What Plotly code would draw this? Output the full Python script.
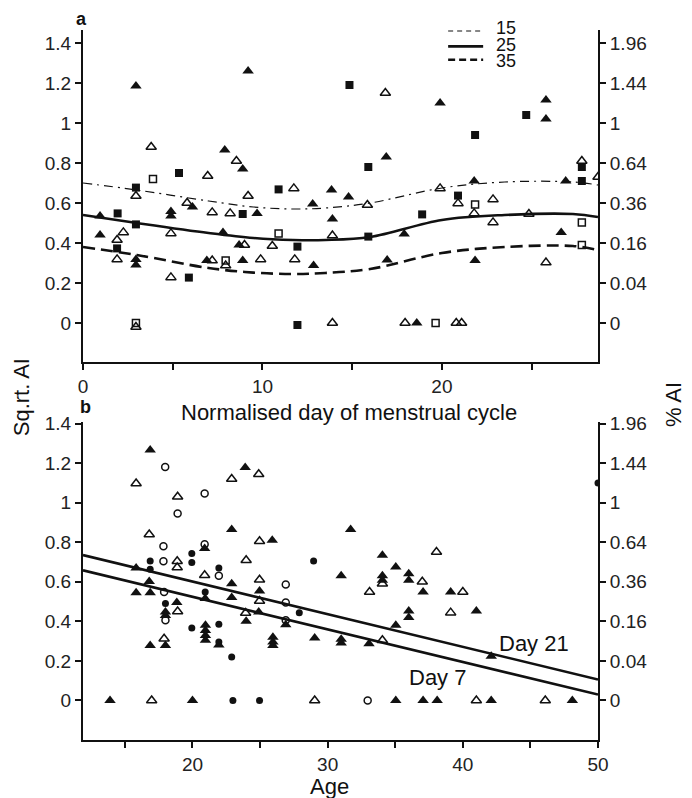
import plotly.graph_objects as go

# ---------------- Panel a data (day of cycle, sqrt AI) ----------------
a_ft_day = [2.95, 9.2, 7.9, 8.9, 19.9, 25.8, 25.8, 16.9, 26.9, 21.8, 13.85, 14.8, 6.1, 12.8, 0.95, 4.9, 4.9,
            9.7, 13.9, 7.8, 0.95, 8.7, 2.95, 2.95, 6.9, 8.9, 12.85, 17.9, 26.65, 16.95, 21.85, 18.6]
a_ft_val = [1.185, 1.26, 0.865, 0.77, 1.10, 1.115, 1.02, 0.83, 0.71, 0.71, 0.665, 0.63, 0.58, 0.595, 0.535, 0.557, 0.535,
            0.548, 0.52, 0.453, 0.44, 0.39, 0.318, 0.29, 0.312, 0.312, 0.287, 0.445, 0.453, 0.315, 0.312, 0.0]

a_ot_day = [3.8, 8.55, 6.95, 16.85, 27.8, 28.7, 2.95, 11.75, 9.2, 5.8, 15.85, 7.2, 8.2, 4.9, 2.25, 1.9, 13.9,
            9.0, 10.55, 1.9, 7.2, 7.95, 9.9, 11.8, 4.9, 2.95, 13.9, 19.9, 20.9, 22.85, 21.8, 22.85, 24.85,
            25.8, 17.95, 20.8, 21.1]
a_ot_val = [0.88, 0.81, 0.735, 1.15, 0.81, 0.73, 0.635, 0.673, 0.635, 0.60, 0.59, 0.553, 0.548, 0.448, 0.453, 0.415, 0.437,
            0.39, 0.385, 0.318, 0.312, 0.287, 0.318, 0.318, 0.228, -0.02, 0.0, 0.673, 0.598, 0.618, 0.548, 0.503, 0.545,
            0.302, 0.0, 0.0, 0.0]

a_fs_day = [14.85, 5.35, 15.9, 24.7, 21.85, 27.8, 27.8, 2.95, 10.9, 1.93, 8.9, 2.95, 15.9, 11.95, 1.9, 5.9, 11.95,
            20.9, 18.9]
a_fs_val = [1.19, 0.75, 0.78, 1.04, 0.94, 0.78, 0.71, 0.677, 0.668, 0.548, 0.545, 0.493, 0.432, 0.382, 0.373, 0.227, -0.01,
            0.637, 0.543]

a_os_day = [3.9, 10.9, 7.95, 2.95, 21.85, 27.8, 27.8, 19.65]
a_os_val = [0.72, 0.448, 0.312, 0.0, 0.593, 0.503, 0.39, 0.0]

# fitted curves for ages 15, 25, 35
curve_day = [0, 3, 7, 9.5, 11.7, 13.5, 16, 20, 23.5, 27.3, 28.7]
curve_15 = [0.70, 0.665, 0.61, 0.58, 0.57, 0.575, 0.60, 0.675, 0.705, 0.705, 0.69]
curve_25 = [0.54, 0.50, 0.45, 0.425, 0.415, 0.415, 0.43, 0.515, 0.54, 0.545, 0.53]
curve_35 = [0.38, 0.34, 0.275, 0.252, 0.245, 0.25, 0.27, 0.35, 0.38, 0.385, 0.365]
legend_labels = ["15", "25", "35"]

# ---------------- Panel b data (age, sqrt AI) ----------------
b_ft_age = [16.87, 23.9, 20.9, 22.9, 25.9, 31.7, 15.83, 31.0, 16.8, 15.83, 16.87, 22.9, 24.96, 34.05, 35.04, 34.05,
            34.05, 36.0, 36.0, 37.06, 39.1, 36.0, 36.0, 41.0, 35.04, 31.0, 31.0, 33.06, 42.1, 22.9, 18.84, 18.0, 18.0,
            23.97, 24.9, 26.9, 20.94, 20.96, 20.96, 20.96, 20.96, 21.95, 18.0, 16.87, 25.95, 25.95, 25.95, 29.04,
            13.9, 20.0, 35.04, 37.06, 38.1, 42.1, 48.1]
b_ft_val = [1.266, 1.178, 0.768, 0.864, 0.81, 0.864, 0.67, 0.63, 0.602, 0.545, 0.545, 0.59, 0.553, 0.734, 0.675, 0.63,
            0.608, 0.641, 0.608, 0.548, 0.548, 0.452, 0.419, 0.452, 0.38, 0.31, 0.29, 0.287, 0.223, 0.52, 0.495, 0.447, 0.43,
            0.40, 0.447, 0.383, 0.515, 0.38, 0.354, 0.329, 0.304, 0.28, 0.278, 0.278, 0.32, 0.295, 0.278, 0.316,
            0.0, 0.0, 0.0, 0.0, 0.0, 0.0, 0.0]

b_ot_age = [15.83, 18.9, 22.9, 24.9, 16.8, 24.96, 18.87, 18.87, 23.97, 20.9, 24.96, 33.1, 38.05, 34.05, 37.0, 40.0,
            39.1, 34.05, 24.96, 18.9, 23.93, 17.9, 16.98, 29.04, 41.0, 46.1]
b_ot_val = [1.097, 1.03, 1.12, 1.144, 0.839, 0.805, 0.704, 0.672, 0.709, 0.633, 0.61, 0.548, 0.751, 0.59, 0.6, 0.548,
            0.444, 0.304, 0.503, 0.45, 0.442, 0.312, 0.0, 0.0, 0.0, 0.0]

b_fc_age = [19.95, 19.95, 16.87, 21.95, 28.96, 16.87, 20.94, 18.0, 27.9, 19.95, 21.95, 21.95, 22.9, 22.99, 24.96, 50.0]
b_fc_val = [0.743, 0.697, 0.705, 0.67, 0.705, 0.663, 0.548, 0.49, 0.444, 0.366, 0.385, 0.295, 0.22, 0.0, 0.0, 1.1]

b_oc_age = [17.98, 18.9, 20.9, 17.85, 20.9, 17.85, 21.95, 26.9, 17.9, 26.9, 18.0, 26.9, 32.96]
b_oc_val = [1.18, 0.945, 1.047, 0.78, 0.79, 0.704, 0.63, 0.586, 0.548, 0.495, 0.405, 0.405, 0.0]

# regression lines
line_age = [11.9, 50.0]
day21_val = [0.735, 0.106]
day7_val = [0.658, 0.030]

# ---------------- ticks ----------------
sqrt_ticks = [0, 0.2, 0.4, 0.6, 0.8, 1.0, 1.2, 1.4]
sqrt_ticktext = ["0", "0.2", "0.4", "0.6", "0.8", "1", "1.2", "1.4"]
pct_ticktext = ["0", "0.04", "0.16", "0.36", "0.64", "1", "1.44", "1.96"]
day_ticks = [0, 5, 10, 15, 20, 25]
day_ticktext = ["0", "", "10", "", "20", ""]
age_ticks = [15, 20, 25, 30, 35, 40, 45, 50]
age_ticktext = ["", "20", "", "30", "", "40", "", "50"]

FONT = "Liberation Sans, Arial, sans-serif"
BLACK = "#111111"

fig = go.Figure()

def add_markers(x, y, symbol, size, xa, ya):
    open_ = symbol.endswith("open")
    fig.add_trace(go.Scatter(
        x=x, y=y, mode="markers", xaxis=xa, yaxis=ya, showlegend=False,
        marker=dict(symbol=symbol, size=size, color=BLACK,
                    line=dict(color=BLACK, width=1.5 if open_ else 0)),
        cliponaxis=True))

# panel a curves
fig.add_trace(go.Scatter(x=curve_day, y=curve_15, mode="lines", xaxis="x", yaxis="y", showlegend=False,
                         line=dict(color=BLACK, width=1.2, dash="9px,5px,2px,5px", shape="spline", smoothing=1.0)))
fig.add_trace(go.Scatter(x=curve_day, y=curve_25, mode="lines", xaxis="x", yaxis="y", showlegend=False,
                         line=dict(color=BLACK, width=2.6, shape="spline", smoothing=1.0)))
fig.add_trace(go.Scatter(x=curve_day, y=curve_35, mode="lines", xaxis="x", yaxis="y", showlegend=False,
                         line=dict(color=BLACK, width=2.6, dash="12px,6px", shape="spline", smoothing=1.0)))

add_markers(a_ft_day, a_ft_val, "triangle-up", 10, "x", "y")
add_markers(a_ot_day, a_ot_val, "triangle-up-open", 9, "x", "y")
add_markers(a_fs_day, a_fs_val, "square", 8, "x", "y")
add_markers(a_os_day, a_os_val, "square-open", 7, "x", "y")

# panel b lines
fig.add_trace(go.Scatter(x=line_age, y=day21_val, mode="lines", xaxis="x2", yaxis="y2", showlegend=False,
                         line=dict(color=BLACK, width=2.6)))
fig.add_trace(go.Scatter(x=line_age, y=day7_val, mode="lines", xaxis="x2", yaxis="y2", showlegend=False,
                         line=dict(color=BLACK, width=2.6)))

add_markers(b_ft_age, b_ft_val, "triangle-up", 10, "x2", "y2")
add_markers(b_ot_age, b_ot_val, "triangle-up-open", 9, "x2", "y2")
add_markers(b_fc_age, b_fc_val, "circle", 7, "x2", "y2")
add_markers(b_oc_age, b_oc_val, "circle-open", 7, "x2", "y2")

# dummy traces so the right-hand axes are drawn
fig.add_trace(go.Scatter(x=[None], y=[None], xaxis="x", yaxis="y3", showlegend=False))
fig.add_trace(go.Scatter(x=[None], y=[None], xaxis="x2", yaxis="y4", showlegend=False))

tickfont = dict(family=FONT, size=19, color="#222")
axis_common = dict(showline=True, linecolor=BLACK, linewidth=2, ticks="outside", ticklen=6, tickwidth=1.5,
                   tickcolor=BLACK, showgrid=False, zeroline=False, tickfont=tickfont, fixedrange=True)

# page has an 8px body margin: figure is 684x790 so the plot area lands where the reference has it
fig.update_layout(
    width=684, height=790,
    margin=dict(l=75, r=94, t=22, b=58),
    paper_bgcolor="white", plot_bgcolor="white",
    xaxis=dict(domain=[0, 1], range=[0, 28.7], anchor="y", tickmode="array", tickvals=day_ticks,
               ticktext=day_ticktext, **axis_common),
    yaxis=dict(domain=[0.5324, 1], range=[-0.195, 1.465], anchor="x", tickmode="array", tickvals=sqrt_ticks,
               ticktext=sqrt_ticktext, **axis_common),
    yaxis3=dict(overlaying="y", side="right", anchor="x", range=[-0.195, 1.465], tickmode="array",
                tickvals=sqrt_ticks, ticktext=pct_ticktext, **axis_common),
    xaxis2=dict(domain=[0, 1], range=[11.9, 50], anchor="y2", tickmode="array", tickvals=age_ticks,
                ticktext=age_ticktext, **axis_common),
    yaxis2=dict(domain=[0, 0.4479], range=[-0.2, 1.408], anchor="x2", tickmode="array", tickvals=sqrt_ticks,
                ticktext=sqrt_ticktext, **axis_common),
    yaxis4=dict(overlaying="y2", side="right", anchor="x2", range=[-0.2, 1.408], tickmode="array",
                tickvals=sqrt_ticks, ticktext=pct_ticktext, **axis_common),
)

title_font = dict(family=FONT, size=22, color=BLACK)

def A(text, x, y, xref="paper", yref="paper", font=title_font, angle=0, xanchor="center"):
    return dict(text=text, x=x, y=y, xref=xref, yref=yref, showarrow=False, textangle=angle,
                xanchor=xanchor, yanchor="middle", font=font)

bold_font = dict(family=FONT, size=18, color=BLACK)
ann = [
    A("<b>a</b>", -0.002, 1.016, font=bold_font),
    A("<b>b</b>", 0.004, 0.469, font=bold_font),
    A("Normalised day of menstrual cycle", 0.5165, 0.4606),
    A("Age", 0.478, -0.066),
    A("Sq.rt. AI", -0.12, 0.483, angle=-90),
    A("% AI", 1.148, 0.472, angle=-90),
    A("Day 21", 45.3, 0.29, xref="x2", yref="y2"),
    A("Day 7", 38.1, 0.117, xref="x2", yref="y2"),
]
# legend (panel a, top right)
leg_y_line = [0.9986, 0.977, 0.958]
leg_y_text = [1.003, 0.979, 0.956]
leg_styles = [dict(width=1.2, dash="5px,4px"), dict(width=2.6, dash="solid"), dict(width=2.6, dash="7px,4px")]
shapes = []
for lbl, yl, yt, st in zip(legend_labels, leg_y_line, leg_y_text, leg_styles):
    shapes.append(dict(type="line", xref="paper", yref="paper", x0=0.709, x1=0.777, y0=yl, y1=yl,
                       line=dict(color=BLACK, width=st["width"], dash=st["dash"])))
    ann.append(A(lbl, 0.798, yt, xanchor="left", font=dict(family=FONT, size=18, color=BLACK)))
fig.update_layout(annotations=ann, shapes=shapes)

fig.write_html("out.html")
